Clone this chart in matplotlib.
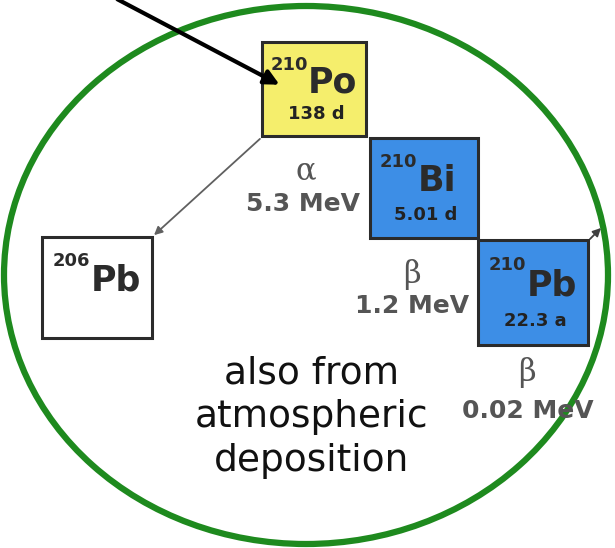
import matplotlib.pyplot as plt
from matplotlib.patches import Ellipse, Rectangle, FancyArrowPatch

# decay chain data
mass = ['210', '210', '210', '206']
symbol = ['Po', 'Bi', 'Pb', 'Pb']
half_life = ['138 d', '5.01 d', '22.3 a', '']
decay_mode = ['\u03b1', '\u03b2', '\u03b2']
energy = ['5.3 MeV', '1.2 MeV', '0.02 MeV']
note = ['also from', 'atmospheric', 'deposition']

# layout (pixel coords, y down)
box_xy = [(262, 42), (370, 138), (478, 240), (42, 237)]
box_wh = [(104, 94), (108, 100), (110, 105), (110, 101)]
box_fc = ['#f5ee6c', '#3d8ee6', '#3d8ee6', 'white']
label_xy = [(306, 171), (412, 274), (527, 373)]
energy_xy = [(303, 204), (412, 306), (528, 411)]

fig = plt.figure(figsize=(6.15, 5.48), dpi=100)
ax = fig.add_axes([0, 0, 1, 1])
ax.set_xlim(0, 615)
ax.set_ylim(548, 0)
ax.axis('off')

ax.add_patch(Ellipse((306, 275), 604, 538, fill=False, ec='#1e8a1e', lw=4.5, zorder=1))

for i in range(4):
    x, y = box_xy[i]
    w, h = box_wh[i]
    ax.add_patch(Rectangle((x, y), w, h, fc=box_fc[i], ec='#2b2b2b', lw=2.2, zorder=3))
    ax.text(x + 0.44 * w, y + 0.24 * h, mass[i], fontsize=13, fontweight='bold',
            color='#2b2b2b', ha='right', va='center', zorder=4)
    ax.text(x + 0.44 * w, y + 0.43 * h, symbol[i], fontsize=25, fontweight='bold',
            color='#2b2b2b', ha='left', va='center', zorder=4)
    if half_life[i]:
        ax.text(x + 0.52 * w, y + 0.77 * h, half_life[i], fontsize=13, fontweight='bold',
                color='#222222', ha='center', va='center', zorder=4)

for i in range(3):
    ax.text(*label_xy[i], decay_mode[i], fontsize=22, color='#555555',
            ha='center', va='center', family='DejaVu Serif', zorder=4)
    ax.text(*energy_xy[i], energy[i], fontsize=18, fontweight='bold', color='#555555',
            ha='center', va='center', zorder=4)

for i, t in enumerate(note):
    ax.text(312, 373 + 44 * i, t, fontsize=27, color='#111111', ha='center', va='center',
            zorder=5)

# arrows
ax.add_patch(FancyArrowPatch((115, -2), (282, 86), arrowstyle='-|>', mutation_scale=22,
                             color='black', lw=3, zorder=6))
ax.add_patch(FancyArrowPatch((262, 137), (152, 237), arrowstyle='-|>', mutation_scale=12,
                             color='#606060', lw=1.3, zorder=2))
ax.add_patch(FancyArrowPatch((588, 241), (603, 226), arrowstyle='-|>', mutation_scale=12,
                             color='#404040', lw=1.3, zorder=2))

fig.savefig('out.png', dpi=100)
